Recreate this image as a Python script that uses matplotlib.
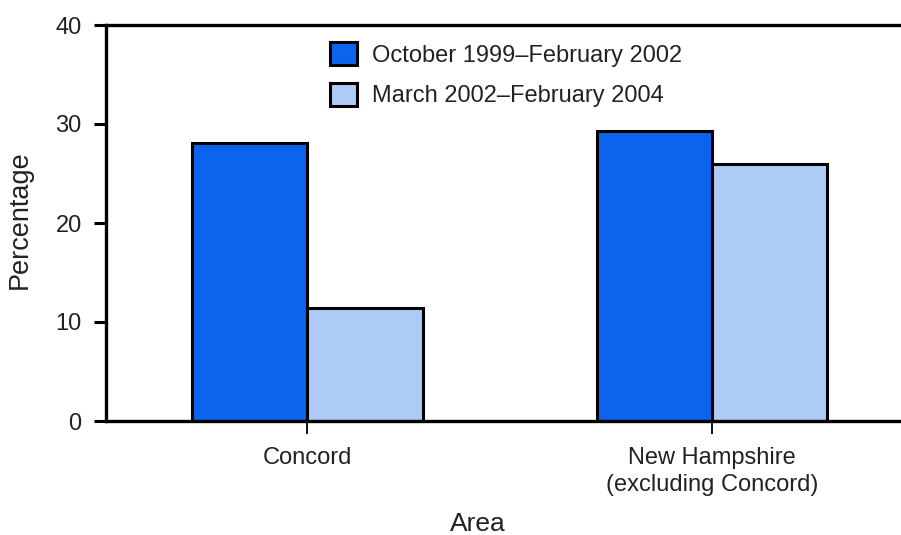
import numpy as np
import matplotlib
matplotlib.use("Agg")
import matplotlib.pyplot as plt

plt.rcParams['font.family'] = ['Liberation Sans', 'DejaVu Sans']

areas = ["Concord", "New Hampshire\n(excluding Concord)"]
series = ["October 1999\u2013February 2002", "March 2002\u2013February 2004"]
period1 = [28.1, 29.3]
period2 = [11.4, 26.0]
colors = ["#0b63ee", "#adcbf7"]

fig = plt.figure(figsize=(9.01, 5.35), dpi=100)
ax = fig.add_axes([106 / 901, 114 / 535, 795 / 901, 396 / 535])

x = np.arange(len(areas))
w = 0.285
ax.bar(x - w / 2, period1, w, color=colors[0], edgecolor="black", linewidth=2.2, label=series[0])
ax.bar(x + w / 2, period2, w, color=colors[1], edgecolor="black", linewidth=2.2, label=series[1])

ax.set_xlim(-0.497, 1.467)
ax.set_ylim(0, 40)
ax.set_yticks([0, 10, 20, 30, 40])
ax.set_xticks(x)
ax.set_xticklabels(areas, linespacing=1.25)

for s in ["left", "top", "bottom"]:
    ax.spines[s].set_linewidth(2.4)
ax.spines["right"].set_visible(False)

txt = "#222222"
ax.tick_params(axis="y", length=9, width=2.2, pad=8.5, labelsize=17, labelcolor=txt)
ax.tick_params(axis="x", length=9.5, width=1.3, pad=9.5, labelsize=17, labelcolor=txt)

ax.set_ylabel("Percentage", fontsize=19.5, color=txt)
ax.yaxis.set_label_coords(-0.0916, 0.508)
ax.set_xlabel("Area", fontsize=19, color=txt)
ax.xaxis.set_label_coords(0.468, -0.23)

ax.legend(loc="upper left", bbox_to_anchor=(0.2818, 0.957), frameon=False,
          fontsize=17, handlelength=1.14, handleheight=1.14, handletextpad=0.62,
          labelspacing=0.68, borderpad=0, borderaxespad=0, labelcolor=txt)

fig.savefig("out.png", dpi=100)
